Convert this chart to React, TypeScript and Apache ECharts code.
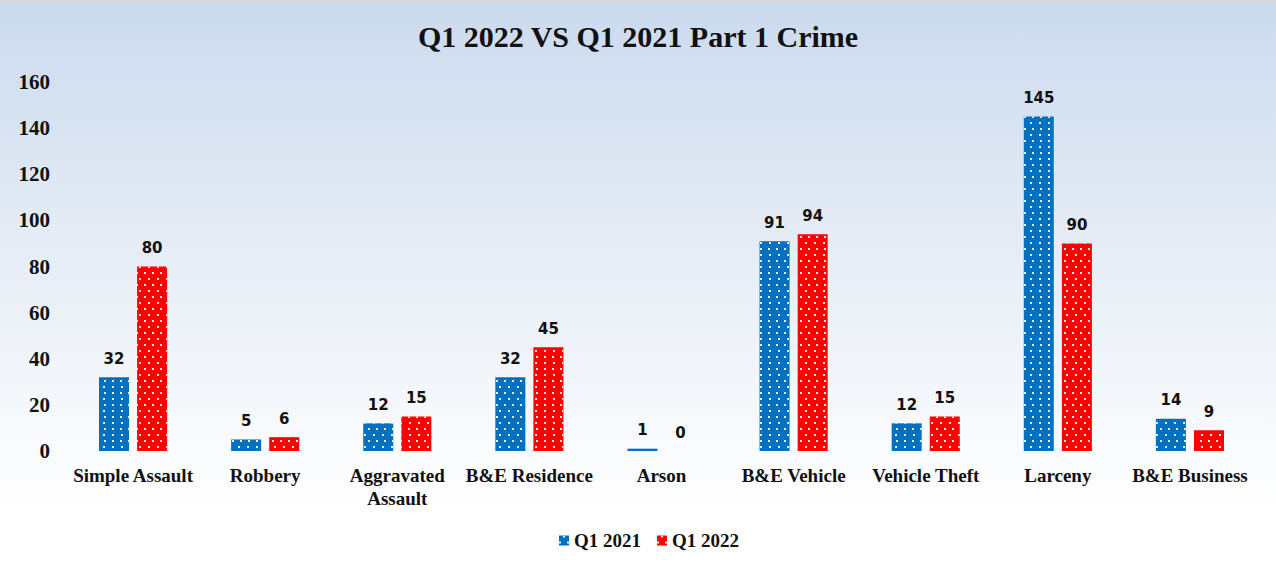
import React, { useEffect, useRef } from "react";
import * as echarts from "echarts";

const categories = [
  "Simple Assault",
  "Robbery",
  "Aggravated\nAssault",
  "B&E Residence",
  "Arson",
  "B&E Vehicle",
  "Vehicle Theft",
  "Larceny",
  "B&E Business",
];
const q1_2021 = [32, 5, 12, 32, 1, 91, 12, 145, 14];
const q1_2022 = [80, 6, 15, 45, 0, 94, 15, 90, 9];
const seriesNames = ["Q1 2021", "Q1 2022"];
const titleText = "Q1 2022 VS Q1 2021 Part 1 Crime";

const serif = "'Liberation Serif', 'Times New Roman', serif";
const sans = "'DejaVu Sans', Verdana, sans-serif";

const decal = {
  symbol: "rect",
  symbolSize: 1,
  color: "rgba(255,255,255,0.9)",
  dashArrayX: [
    [1.4, 5.6],
    [0, 3.5, 1.4, 2.1],
  ],
  dashArrayY: [1.4, 3.2],
  rotation: 0,
};

export default function App() {
  const ref = useRef<HTMLDivElement>(null);
  useEffect(() => {
    if (!ref.current) return;
    const chart = echarts.init(ref.current, null, { renderer: "svg" });
    const label = {
      show: true,
      position: "top",
      distance: 11,
      fontFamily: sans,
      fontWeight: "bold",
      fontSize: 15,
      color: "#111",
    };
    chart.setOption({
      animation: false,
      backgroundColor: "transparent",
      title: {
        text: titleText,
        left: "center",
        top: 14,
        textStyle: {
          fontFamily: serif,
          fontWeight: "bold",
          fontSize: 30,
          color: "#111",
        },
      },
      legend: {
        bottom: 12,
        left: 554,
        itemWidth: 10,
        itemHeight: 10,
        itemGap: 16,
        icon: "rect",
        textStyle: {
          fontFamily: serif,
          fontWeight: "bold",
          fontSize: 19,
          color: "#111",
        },
        data: seriesNames,
      },
      grid: { left: 67, right: 20, top: 80, bottom: 116 },
      xAxis: {
        type: "category",
        data: categories,
        axisLine: { show: false },
        axisTick: { show: false },
        axisLabel: {
          interval: 0,
          margin: 13,
          fontFamily: serif,
          fontWeight: "bold",
          fontSize: 19,
          lineHeight: 23,
          color: "#111",
        },
      },
      yAxis: {
        type: "value",
        min: 0,
        max: 160,
        interval: 20,
        axisLine: { show: false },
        axisTick: { show: false },
        splitLine: { show: false },
        axisLabel: {
          margin: 17,
          fontFamily: serif,
          fontWeight: "bold",
          fontSize: 21,
          color: "#111",
        },
      },
      series: [
        {
          name: seriesNames[0],
          type: "bar",
          data: q1_2021,
          barWidth: 30,
          barGap: "27%",
          itemStyle: { color: "#0070c0", decal },
          label,
        },
        {
          name: seriesNames[1],
          type: "bar",
          data: q1_2022,
          barWidth: 30,
          itemStyle: { color: "#ff0000", decal },
          label,
        },
      ],
    });
    return () => chart.dispose();
  }, []);
  return (
    <div
      style={{
        position: "fixed",
        left: 0,
        top: 0,
        width: 1276,
        height: 567,
        borderTop: "2px solid #d6d6d6",
        boxSizing: "border-box",
        background: "linear-gradient(to bottom, #cbdaee 0%, #e4ebf5 40%, #ffffff 90%)",
      }}
    >
      <div ref={ref} style={{ width: 1276, height: 565 }} />
    </div>
  );
}
